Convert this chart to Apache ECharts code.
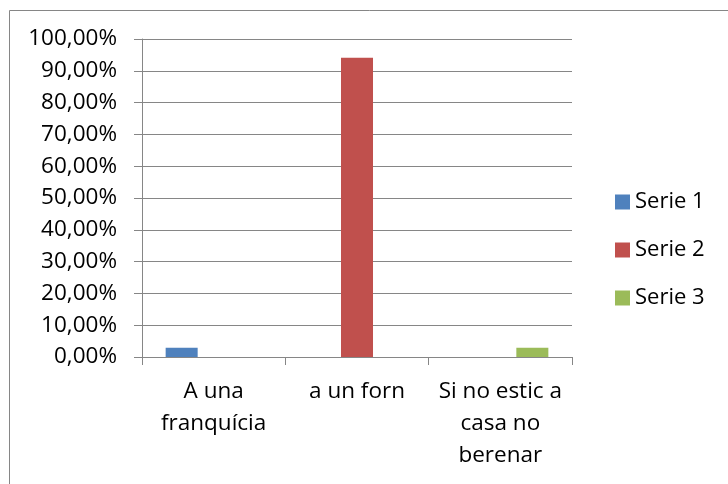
<!DOCTYPE html>
<html>
<head>
<meta charset="utf-8">
<script src="https://cdn.jsdelivr.net/npm/echarts@6/dist/echarts.min.js"></script>
<style>html,body{margin:0;padding:0;background:#fff}#c{width:728px;height:484px}</style>
</head>
<body>
<div id="c"></div>
<script>
var categories = ['A una\nfranquícia', 'a un forn', 'Si no estic a\ncasa no\nberenar'];
var serie1 = [2.94, null, null];
var serie2 = [null, 94.12, null];
var serie3 = [null, null, 2.94];
var seriesNames = ['Serie 1', 'Serie 2', 'Serie 3'];
var yTicks = { min: 0, max: 100, interval: 10 };

var font = '"Open Sans", sans-serif';
var grey = '#868686';
var chart = echarts.init(document.getElementById('c'));
chart.setOption({
  animation: false,
  backgroundColor: '#fff',
  graphic: [{
    type: 'rect', left: 7, top: 8, shape: { width: 900, height: 700 },
    style: { fill: 'none', stroke: grey, lineWidth: 1 }, silent: true, z: -1
  }],
  grid: { left: 142, right: 156, top: 39, bottom: 127 },
  legend: {
    orient: 'vertical', left: 615, top: 191, padding: 0,
    itemWidth: 15, itemHeight: 15, itemGap: 26,
    icon: 'rect',
    textStyle: { fontFamily: font, fontSize: 22, color: '#000', lineHeight: 22 },
    data: seriesNames
  },
  xAxis: {
    type: 'category', data: categories,
    axisLine: { lineStyle: { color: grey, width: 1 } },
    axisTick: { show: true, length: 8, lineStyle: { color: grey } },
    axisLabel: { fontFamily: font, fontSize: 22.5, color: '#000', lineHeight: 32, margin: 19, interval: 0 }
  },
  yAxis: {
    type: 'value', min: yTicks.min, max: yTicks.max, interval: yTicks.interval,
    axisLine: { show: true, lineStyle: { color: grey, width: 1 } },
    axisTick: { show: true, length: 8, lineStyle: { color: grey } },
    splitLine: { lineStyle: { color: grey, width: 1 } },
    axisLabel: {
      fontFamily: font, fontSize: 22.5, color: '#000', margin: 25,
      formatter: function (v) { return v.toFixed(2).replace('.', ',') + '%'; }
    }
  },
  series: [
    { name: seriesNames[0], type: 'bar', data: serie1, itemStyle: { color: '#4F81BD' }, barGap: '0%', barCategoryGap: '33%' },
    { name: seriesNames[1], type: 'bar', data: serie2, itemStyle: { color: '#C0504D' }, barGap: '0%', barCategoryGap: '33%' },
    { name: seriesNames[2], type: 'bar', data: serie3, itemStyle: { color: '#9BBB59' }, barGap: '0%', barCategoryGap: '33%' }
  ]
});
</script>
</body>
</html>
